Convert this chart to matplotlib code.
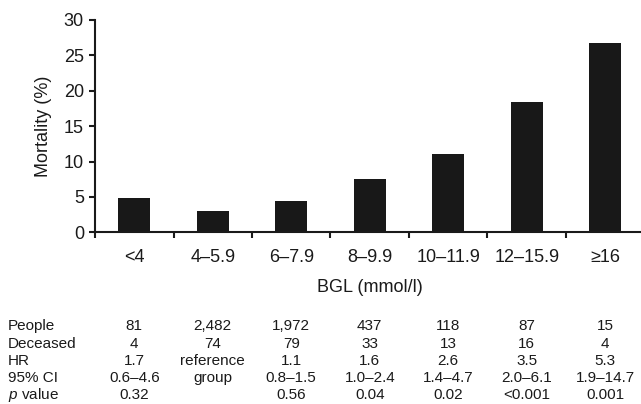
import matplotlib
matplotlib.use("Agg")
import matplotlib.pyplot as plt
import numpy as np

categories = ["<4", "4–5.9", "6–7.9", "8–9.9", "10–11.9", "12–15.9", "≥16"]
mortality = [4.9, 3.0, 4.4, 7.5, 11.0, 18.4, 26.7]

row_labels = ["People", "Deceased", "HR", "95% CI", "$p$ value"]
people = ["81", "2,482", "1,972", "437", "118", "87", "15"]
deceased = ["4", "74", "79", "33", "13", "16", "4"]
hr = ["1.7", "reference", "1.1", "1.6", "2.6", "3.5", "5.3"]
ci = ["0.6–4.6", "group", "0.8–1.5", "1.0–2.4", "1.4–4.7", "2.0–6.1", "1.9–14.7"]
pval = ["0.32", "", "0.56", "0.04", "0.02", "<0.001", "0.001"]

plt.rcParams["font.family"] = ["Liberation Sans", "DejaVu Sans"]
plt.rcParams["mathtext.fontset"] = "custom"
plt.rcParams["mathtext.rm"] = "Liberation Sans"
plt.rcParams["mathtext.it"] = "Liberation Sans:italic"

W, H = 641, 404
fig = plt.figure(figsize=(W / 100, H / 100), dpi=100)
left, right = 95, 644.5
y0, y30 = 232.3, 20
ax = fig.add_axes([left / W, 1 - y0 / H, (right - left) / W, (y0 - y30) / H])

x = np.arange(len(categories)) + 0.5
ax.bar(x, mortality, width=0.41, color="#181818", edgecolor="none")
ax.set_xlim(0, len(categories))
ax.set_ylim(0, 30)

axis_col = "#1a1a1a"
for s in ["top", "right"]:
    ax.spines[s].set_visible(False)
for s in ["left", "bottom"]:
    ax.spines[s].set_linewidth(1.5)
    ax.spines[s].set_color(axis_col)

ax.set_yticks([0, 5, 10, 15, 20, 25, 30])
ax.tick_params(axis="y", direction="out", length=4, width=1.5, color=axis_col,
               labelsize=13, pad=4, labelcolor="#1a1a1a")
ax.set_xticks(np.arange(len(categories) + 1))
ax.set_xticklabels([])
ax.tick_params(axis="x", which="major", direction="out", length=4, width=1.5, color=axis_col)
ax.set_xticks(x, minor=True)
ax.set_xticklabels(categories, minor=True)
ax.tick_params(axis="x", which="minor", length=0, labelsize=13, pad=12, labelcolor="#1a1a1a")

fig.text(43.3 / W, 1 - 126 / H, "Mortality (%)", rotation=90, ha="center", va="center",
         fontsize=13, color="#1a1a1a")
fig.text((left + right) / 2 / W, 1 - 288 / H, "BGL (mmol/l)", ha="center", va="center",
         fontsize=13, color="#1a1a1a")

rows = [people, deceased, hr, ci, pval]
row_y = [326, 344, 361, 378, 395]
for lab, vals, yy in zip(row_labels, rows, row_y):
    fig.text(8 / W, 1 - yy / H, lab, ha="left", va="center", fontsize=11, color="#1a1a1a")
    for xi, v in zip(x, vals):
        xp = ax.transData.transform((xi, 0))[0]
        fig.text(xp / W, 1 - yy / H, v, ha="center", va="center", fontsize=11, color="#1a1a1a")

fig.savefig("out.png", dpi=100)
